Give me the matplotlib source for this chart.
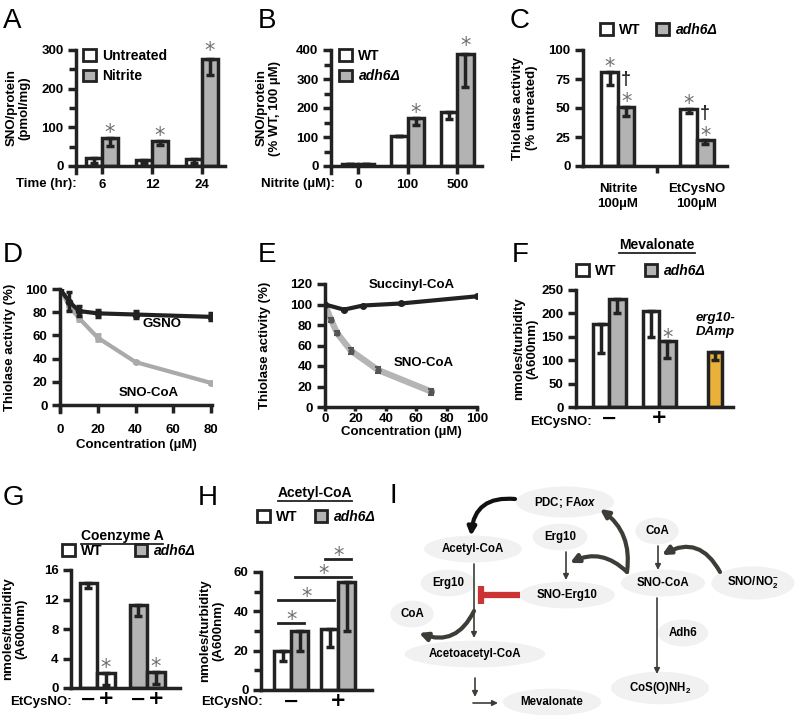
import matplotlib
matplotlib.use("Agg")
import matplotlib.pyplot as plt
from matplotlib.patches import Patch, FancyArrowPatch
from matplotlib.lines import Line2D
import numpy as np

plt.rcParams['font.family'] = ['Liberation Sans', 'DejaVu Sans']
plt.rcParams['font.weight'] = 'bold'
plt.rcParams['mathtext.fontset'] = 'custom'
plt.rcParams['mathtext.rm'] = 'Liberation Sans:bold'
plt.rcParams['mathtext.it'] = 'Liberation Sans:italic:bold'
plt.rcParams['mathtext.bf'] = 'Liberation Sans:bold'

# ---- data ----
# A: SNO/protein vs time
a_times = ['6', '12', '24']
a_untreated = [21, 15, 19]
a_untreated_lo = [9, 8, 9]
a_nitrite = [72, 64, 277]
a_nitrite_lo = [53, 54, 235]

# B: SNO/protein vs nitrite dose
b_dose = ['0', '100', '500']
b_wt = [8, 104, 187]
b_wt_lo = [8, 104, 163]
b_adh6 = [8, 167, 386]
b_adh6_lo = [8, 141, 274]

# C: thiolase activity
c_groups = ['Nitrite\n100µM', 'EtCysNO\n100µM']
c_wt = [81, 49]
c_wt_lo = [70, 46]
c_adh6 = [51, 22]
c_adh6_lo = [43, 19]

# D: thiolase activity vs GSNO / SNO-CoA
d_conc = [0, 5, 10, 20, 40, 80]
d_gsno = [100, 89, 81, 79, 78, 76]
d_gsno_err = [1, 8, 4, 3, 3, 3]
d_snocoa = [100, 85, 75, 58, 37, 19]
d_snocoa_err = [1, 3, 3, 3, 1, 1]

# E: thiolase activity vs succinyl-CoA / SNO-CoA
e_succ_conc = [0, 12.5, 25, 50, 100]
e_succ = [100, 95, 99, 101, 108]
e_succ_err = [1, 1, 1, 1, 1]
e_sno_conc = [0, 4, 8, 17, 35, 70]
e_sno = [100, 85, 72, 55, 36, 15]
e_sno_err = [1, 2, 2, 3, 3, 3]

# F: mevalonate
f_treat = ['−', '+']
f_wt = [178, 205]
f_wt_lo = [115, 150]
f_adh6 = [230, 140]
f_adh6_lo = [200, 105]
f_erg10 = 117
f_erg10_lo = 100

# G: coenzyme A
g_treat = ['−', '+', '−', '+']
g_wt = [14.3, 2.0]
g_wt_lo = [13.5, 0.4]
g_adh6 = [11.3, 2.2]
g_adh6_lo = [9.8, 0.5]

# H: acetyl-CoA
h_treat = ['−', '+']
h_wt = [20, 31]
h_wt_lo = [15, 22]
h_adh6 = [30, 55]
h_adh6_lo = [20, 30]
# significance brackets: (bar i, bar j, height)  bars: 0=WT-,1=adh6-,2=WT+,3=adh6+
h_brackets = [(0, 1, 34), (0, 2, 46), (1, 3, 57.5), (2, 3, 66.5)]

W, H = 800, 715
INK = '#222222'
GRAY = '#b3b3b3'
ORANGE = '#e9b13a'
STAR = '#707070'
ARROW = '#3b3e37'

fig = plt.figure(figsize=(8, 7.15), dpi=100)


def px_rect(x0, y0, x1, y1):
    return [x0 / W, 1 - y1 / H, (x1 - x0) / W, (y1 - y0) / H]


def ftext(x, y, s, **kw):
    return fig.text(x / W, 1 - y / H, s, **kw)


def style(ax, ylim, yticks, minor=None, below=0.0):
    ax.set_ylim(*ylim)
    ax.set_yticks(yticks)
    if minor is not None:
        ax.set_yticks(minor, minor=True)
    for s in ['top', 'right']:
        ax.spines[s].set_visible(False)
    for s in ['left', 'bottom']:
        ax.spines[s].set_linewidth(2.5)
        ax.spines[s].set_color(INK)
    if below:
        ax.spines['left'].set_bounds(ylim[0] - below, ylim[1])
    ax.tick_params(which='both', direction='out', width=2.5, color=INK,
                   labelsize=9.5, length=6, pad=3)
    ax.tick_params(which='minor', length=5)
    ax.patch.set_alpha(0)


def bars(ax, pos, vals, lows, color, width):
    ax.bar(pos, vals, width, color=color, edgecolor=INK, linewidth=2.5, zorder=2)
    err = [np.array(vals) - np.array(lows), np.zeros(len(vals))]
    ax.errorbar(pos, vals, yerr=err, fmt='none', ecolor=INK, elinewidth=2.5,
                capsize=3.2, capthick=2.5, zorder=3)


def star(ax, x, y, gap=11):
    # asterisk centred roughly `gap` pixels above y
    size = 15
    ax.annotate('*', (x, y), xytext=(0, gap * 0.72 - 0.585 * size),
                textcoords='offset points', ha='center', va='baseline',
                fontsize=size, fontweight='normal', color=STAR,
                family='DejaVu Sans', annotation_clip=False)


def dagger(ax, x, y, gap=28):
    size = 13
    ax.annotate('†', (x, y), xytext=(0, gap * 0.72 - 0.3 * size),
                textcoords='offset points', ha='center', va='baseline',
                fontsize=size, color=INK, annotation_clip=False)


def legend(x, y, labels, ncol=1, colors=('white', GRAY), loc='upper left', colsp=1.0):
    handles = [Patch(facecolor=c, edgecolor=INK, linewidth=2) for c in colors]
    leg = fig.legend(handles, labels, loc=loc, bbox_to_anchor=(x / W, 1 - y / H),
                     ncol=ncol, frameon=False, fontsize=10, handlelength=0.9,
                     handleheight=0.9, handletextpad=0.5, labelspacing=0.45,
                     columnspacing=colsp, borderpad=0, borderaxespad=0)
    return leg


def ylabel(ax, text, xpx):
    # xpx: centre of the label in figure pixels
    ax.set_ylabel(text, fontsize=9.5, fontweight='bold', linespacing=1.15)
    ax.yaxis.label.set_va('center')
    x0 = ax.get_position().x0 * W
    wid = ax.get_position().width * W
    ax.yaxis.set_label_coords((xpx - x0) / wid, 0.5)


def signs(ax):
    for t in ax.get_xticklabels():
        t.set_family('DejaVu Sans')
        t.set_fontweight('bold')
    ax.tick_params(axis='x', length=0, labelsize=14, pad=1)


# ---- panel letters ----
for letter, x, y in [('A', 3, 28), ('B', 258, 28), ('C', 510, 28),
                     ('D', 3, 262), ('E', 258, 262), ('F', 512, 262),
                     ('G', 3, 505), ('H', 198, 505), ('I', 390, 503)]:
    ftext(x, y, letter, fontsize=20, fontweight='normal', va='baseline', ha='left')

# ---- A ----
axA = fig.add_axes(px_rect(76, 50, 225, 166))
w = 0.32
xa = np.arange(len(a_times))
bars(axA, xa - w / 2, a_untreated, a_untreated_lo, 'white', w)
bars(axA, xa + w / 2, a_nitrite, a_nitrite_lo, GRAY, w)
axA.set_xlim(-0.52, 2.46)
style(axA, (0, 300), [0, 100, 200, 300], [50, 150, 250], below=18)
axA.set_xticks(xa, a_times)
for i, v in enumerate(a_nitrite):
    star(axA, xa[i] + w / 2, v, gap=11 if i < 2 else 14)
ylabel(axA, 'SNO/protein\n(pmol/mg)', 18)
ftext(77, 184, 'Time (hr):', fontsize=9.5, ha='right', va='center')
legend(83, 49, ['Untreated', 'Nitrite'])

# ---- B ----
axB = fig.add_axes(px_rect(331, 50, 482, 166))
w = 0.33
xb = np.arange(len(b_dose))
bars(axB, xb - w / 2, b_wt, b_wt_lo, 'white', w)
bars(axB, xb + w / 2, b_adh6, b_adh6_lo, GRAY, w)
axB.set_xlim(-0.545, 2.5)
style(axB, (0, 400), [0, 100, 200, 300, 400], [50, 150, 250, 350], below=24)
axB.set_xticks(xb, b_dose)
for i in [1, 2]:
    star(axB, xb[i] + w / 2, b_adh6[i], gap=11 if i == 1 else 14)
ylabel(axB, 'SNO/protein\n(% WT, 100 µM)', 268)
ftext(335, 184, 'Nitrite (µM):', fontsize=9.5, ha='right', va='center')
legB = legend(339, 49, ['WT', 'adh6Δ'])
legB.get_texts()[1].set_style('italic')

# ---- C ----
axC = fig.add_axes(px_rect(583, 50, 727, 166))
w = 0.21
xc = np.arange(len(c_groups))
bars(axC, xc - w / 2, c_wt, c_wt_lo, 'white', w)
bars(axC, xc + w / 2, c_adh6, c_adh6_lo, GRAY, w)
axC.set_xlim(-0.44, 1.38)
style(axC, (0, 100), [0, 25, 50, 75, 100])
axC.set_xticks(xc, c_groups)
axC.set_xticks([0.5], minor=True)
axC.tick_params(axis='x', which='major', length=0, pad=12)
for t in axC.get_xticklabels():
    t.set_linespacing(1.35)
for i in range(2):
    star(axC, xc[i] - w / 2, c_wt[i])
    star(axC, xc[i] + w / 2, c_adh6[i])
    dagger(axC, xc[i] + w / 2, c_adh6[i])
ylabel(axC, 'Thiolase activity\n(% untreated)', 525)
legC = legend(600, 30, ['WT', 'adh6Δ'], ncol=2, loc='center left', colsp=1.1)
legC.get_texts()[1].set_style('italic')

# ---- D ----
axD = fig.add_axes(px_rect(60, 289, 212, 405))
axD.errorbar(d_conc, d_snocoa, yerr=d_snocoa_err, color='#aaaaaa', lw=3,
             marker='o', ms=4, capsize=2.5, elinewidth=2, capthick=2, zorder=2)
axD.errorbar(d_conc, d_gsno, yerr=d_gsno_err, color=INK, lw=3,
             marker='o', ms=4.5, capsize=2.5, elinewidth=2.5, capthick=2.5, zorder=3)
axD.set_xlim(0, 80.5)
style(axD, (0, 100), [0, 20, 40, 60, 80, 100], below=6)
axD.set_xticks([0, 20, 40, 60, 80])
axD.tick_params(axis='x', pad=7.5)
axD.set_xlabel('Concentration (µM)', fontsize=9.5, fontweight='bold', labelpad=2)
ylabel(axD, 'Thiolase activity (%)', 10)
axD.text(54, 70, 'GSNO', fontsize=9.5, ha='center', va='center')
axD.text(47, 10.5, 'SNO-CoA', fontsize=9.5, ha='center', va='center')

# ---- E ----
axE = fig.add_axes(px_rect(325, 284, 477, 407))
axE.plot(e_sno_conc, e_sno, color='#b5b5b5', lw=4.5, zorder=2)
axE.errorbar(e_sno_conc, e_sno, yerr=e_sno_err, fmt='o', color='#555555',
             ms=3.5, capsize=2, elinewidth=1.5, capthick=1.5, zorder=3)
axE.errorbar(e_succ_conc, e_succ, yerr=e_succ_err, color=INK, lw=3,
             marker='o', ms=4, capsize=2, elinewidth=2, zorder=3)
axE.set_xlim(0, 100)
style(axE, (0, 120), [0, 20, 40, 60, 80, 100, 120])
axE.set_xticks([0, 20, 40, 60, 80, 100])
axE.tick_params(axis='x', length=3, pad=1)
axE.set_xlabel('Concentration (µM)', fontsize=9.5, fontweight='bold', labelpad=1)
ylabel(axE, 'Thiolase activity (%)', 265)
axE.text(57, 119, 'Succinyl-CoA', fontsize=9.5, ha='center', va='center')
axE.text(65, 42.5, 'SNO-CoA', fontsize=9.5, ha='center', va='center')

# ---- F ----
axF = fig.add_axes(px_rect(576, 290, 733, 407))
w = 0.33
xf = np.arange(len(f_treat))
bars(axF, xf - w / 2, f_wt, f_wt_lo, 'white', w)
bars(axF, xf + w / 2, f_adh6, f_adh6_lo, GRAY, w)
bars(axF, [2.12], [f_erg10], [f_erg10_lo], ORANGE, 0.28)
axF.set_xlim(-0.66, 2.48)
style(axF, (0, 250), [0, 50, 100, 150, 200, 250])
axF.set_xticks(xf, f_treat)
signs(axF)
star(axF, xf[1] + w / 2, f_adh6[1], gap=10)
axF.text(2.12, 175, 'erg10-\nDAmp', style='italic', fontsize=9.5, ha='center',
         va='center', linespacing=1.2)
ylabel(axF, 'nmoles/turbidity\n(A600nm)', 526)
ftext(592, 422, 'EtCysNO:', fontsize=9.5, ha='right', va='center')
legF = legend(576, 271, ['WT', 'adh6Δ'], ncol=2, loc='center left', colsp=2.0)
legF.get_texts()[1].set_style('italic')
titles = [ftext(657, 249, 'Mevalonate', fontsize=10, ha='center', va='baseline')]

# ---- G ----
axG = fig.add_axes(px_rect(71, 570, 180, 688))
w = 0.35
xg = np.array([-w / 2, w / 2])
bars(axG, xg, g_wt, g_wt_lo, 'white', w)
bars(axG, 1 + xg, g_adh6, g_adh6_lo, GRAY, w)
axG.set_xlim(-0.52, 1.66)
style(axG, (0, 16), [0, 4, 8, 12, 16])
axG.set_xticks(np.concatenate([xg, 1 + xg]), g_treat)
signs(axG)
star(axG, xg[1], g_wt[1])
star(axG, 1 + xg[1], g_adh6[1])
ylabel(axG, 'nmoles/turbidity\n(A600nm)', 15)
ftext(72, 702, 'EtCysNO:', fontsize=9.5, ha='right', va='center')
legG = legend(62, 551, ['WT', 'adh6Δ'], ncol=2, loc='center left', colsp=2.3)
legG.get_texts()[1].set_style('italic')
titles.append(ftext(122, 540, 'Coenzyme A', fontsize=10, ha='center', va='baseline'))

# ---- H ----
axH = fig.add_axes(px_rect(261, 572, 372, 690))
w = 0.36
xh = np.arange(len(h_treat))
bars(axH, xh - w / 2, h_wt, h_wt_lo, 'white', w)
bars(axH, xh + w / 2, h_adh6, h_adh6_lo, GRAY, w)
axH.set_xlim(-0.64, 1.72)
style(axH, (0, 60), [0, 20, 40, 60], [10, 30, 50])
axH.set_xticks(xh, h_treat)
signs(axH)
h_pos = [xh[0] - w / 2, xh[0] + w / 2, xh[1] - w / 2, xh[1] + w / 2]
for i, j, hgt in h_brackets:
    x0, x1 = h_pos[i] - 0.09, h_pos[j] + 0.09
    axH.plot([x0, x1], [hgt, hgt], color=INK, lw=2, clip_on=False)
    star(axH, (x0 + x1) / 2, hgt, gap=9)
ylabel(axH, 'nmoles/turbidity\n(A600nm)', 212)
ftext(263, 702, 'EtCysNO:', fontsize=9.5, ha='right', va='center')
legH = legend(257, 517, ['WT', 'adh6Δ'], ncol=2, loc='center left', colsp=1.2)
legH.get_texts()[1].set_style('italic')
titles.append(ftext(315, 497, 'Acetyl-CoA', fontsize=10, ha='center', va='baseline'))

# ---- I: pathway schematic ----
axI = fig.add_axes(px_rect(380, 465, 800, 715))
axI.set_xlim(380, 800)
axI.set_ylim(715, 465)
axI.axis('off')

nodes = [
    ('PDC; FA$\\mathit{ox}$', 565, 502),
    ('Acetyl-CoA', 473, 549),
    ('Erg10', 448, 583),
    ('CoA', 412, 614),
    ('Acetoacetyl-CoA', 475, 654),
    ('Mevalonate', 552, 702),
    ('Erg10', 560, 537),
    ('SNO-Erg10', 567, 595),
    ('CoA', 657, 531),
    ('SNO-CoA', 663, 583),
    ('SNO/NO$_2^{\\mathbf{-}}$', 753, 583),
    ('Adh6', 683, 633),
    ('CoS(O)NH$_2$', 660, 688),
]
for label, x, y in nodes:
    axI.text(x, y, label, fontsize=8.3, ha='center', va='center', zorder=3,
             bbox=dict(boxstyle='ellipse,pad=0.3', fc='#f1f1f1', ec='none'))


def arrow(p0, p1, rad=0.0, lw=1.2, color=ARROW, head=8):
    axI.add_patch(FancyArrowPatch(p0, p1, connectionstyle=f'arc3,rad={rad}',
                                  arrowstyle='-|>', mutation_scale=head, lw=lw,
                                  color=color, shrinkA=0, shrinkB=0, zorder=4))


arrow((515, 499), (471, 536), rad=0.5, lw=3, color='#111111', head=12)
arrow((474, 564), (474, 638))
arrow((474, 611), (419, 633), rad=-0.45, lw=3, head=12)
arrow((475, 678), (475, 697))
arrow((473, 703), (498, 703))
arrow((566, 552), (566, 580))
arrow((627, 572), (570, 563), rad=0.35, lw=3, head=12)
arrow((627, 572), (600, 509), rad=0.3, lw=3, head=12)
arrow((658, 546), (658, 570))
arrow((720, 572), (662, 555), rad=0.5, lw=3, head=12)
arrow((657, 598), (657, 674))
axI.plot([481, 520], [595, 595], color='#cc3333', lw=4.5, solid_capstyle='butt', zorder=4)
axI.plot([481, 481], [586, 604], color='#cc3333', lw=4.5, solid_capstyle='butt', zorder=4)

# underline the small titles, a few px under the baseline
fig.canvas.draw()
renderer = fig.canvas.get_renderer()
for t in titles:
    bb = t.get_window_extent(renderer)
    yb = t.get_position()[1] - 3.5 / H
    fig.add_artist(Line2D([bb.x0 / W, bb.x1 / W], [yb, yb], color=INK, lw=1.3,
                          transform=fig.transFigure))

fig.savefig('out.png', dpi=100)
